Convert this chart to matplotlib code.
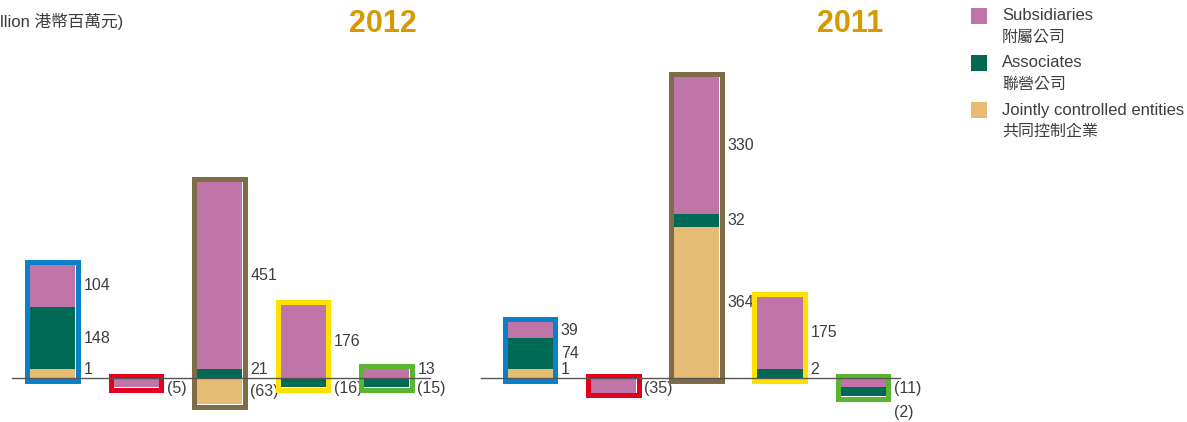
import matplotlib
matplotlib.use('Agg')
import matplotlib.pyplot as plt
from matplotlib.patches import Rectangle

# ---------------- data ----------------
years = ['2012', '2011']
sub_2012 = [104, -5, 451, 176, 13]
assoc_2012 = [148, 0, 21, -16, -15]
jce_2012 = [1, 0, -63, 0, 0]

sub_2011 = [39, -35, 330, 175, -11]
assoc_2011 = [74, 0, 32, 2, -2]
jce_2011 = [1, 0, 364, 0, 0]

legend_en = ['Subsidiaries', 'Associates', 'Jointly controlled entities']
legend_zh = ['附屬公司', '聯營公司', '共同控制企業']
unit_label = 'llion 港幣百萬元)'

# ---------------- style ----------------
W, H = 1187, 422
C_SUB = '#C075A8'
C_ASSOC = '#006A55'
C_JCE = '#E6BB73'
BOX_COLORS = ['#0A80C9', '#E2001A', '#7E6B47', '#FFE100', '#5BB530']
TITLE_COLOR = '#D59A00'
TEXT_COLOR = '#3d3d3d'
NUM_FONT = ['Liberation Sans', 'DejaVu Sans']

PX_PER_UNIT = 0.415          # vertical pixels per HK$ million
BASE_PX = 378                # baseline position from top
BW = 0.55                    # bar width (category units)
MIN_H = 22                   # minimum visible segment height (units)
BOX_LW_PX = 5.0

fig = plt.figure(figsize=(W / 100, H / 100), dpi=100)


def make_axes(left_px, width_px, first_center_px, spacing_px):
    ax = fig.add_axes([left_px / W, 0, width_px / W, 1])
    ax.set_xlim(-(first_center_px - left_px) / spacing_px,
                (left_px + width_px - first_center_px) / spacing_px)
    ax.set_ylim(-(H - BASE_PX) / PX_PER_UNIT, BASE_PX / PX_PER_UNIT)
    ax.axis('off')
    return ax


def draw_panel(ax, sub, assoc, jce, spacing_px, base_x0, base_x1):
    xpad = (BOX_LW_PX / 2) / spacing_px
    ypad = (BOX_LW_PX / 2) / PX_PER_UNIT
    sep = 16 / PX_PER_UNIT
    for i in range(len(sub)):
        pos = [(jce[i], C_JCE), (assoc[i], C_ASSOC), (sub[i], C_SUB)]
        neg = [(sub[i], C_SUB), (assoc[i], C_ASSOC), (jce[i], C_JCE)]
        top, bot = 0.0, 0.0
        pos_labels, neg_labels = [], []
        for v, c in pos:
            if v > 0:
                h = max(v, MIN_H)
                ax.bar(i, h, bottom=top, width=BW, color=c, linewidth=0, zorder=2)
                pos_labels.append((top + h / 2, str(v)))
                top += h
        for v, c in neg:
            if v < 0:
                h = max(-v, MIN_H)
                ax.bar(i, -h, bottom=bot, width=BW, color=c, linewidth=0, zorder=2)
                neg_labels.append((bot - h / 2, '(%d)' % (-v)))
                bot -= h
        ax.add_patch(Rectangle((i - BW / 2 - xpad, bot - ypad), BW + 2 * xpad,
                               (top - bot) + 2 * ypad, fill=False,
                               edgecolor=BOX_COLORS[i], linewidth=BOX_LW_PX * 0.72,
                               joinstyle='miter', zorder=3))
        lx = i + BW / 2 + (BOX_LW_PX + 3.0) / spacing_px
        prev = None
        for y, t in pos_labels:
            y = max(y, 8 / PX_PER_UNIT)
            if prev is not None:
                y = max(y, prev + sep)
            prev = y
            ax.text(lx, y, t, ha='left', va='center', fontsize=11.5,
                    color=TEXT_COLOR, family=NUM_FONT)
        prev = None
        for y, t in neg_labels:
            y = min(y, -10 / PX_PER_UNIT)
            if prev is not None:
                y = min(y, prev - sep * 1.5)
            prev = y
            ax.text(lx, y, t, ha='left', va='center', fontsize=11.5,
                    color=TEXT_COLOR, family=NUM_FONT)
    ax.plot([base_x0, base_x1], [0, 0], color='#555555', linewidth=1.0, zorder=4)


ax12 = make_axes(0, 470, 52.5, 83.5)
draw_panel(ax12, sub_2012, assoc_2012, jce_2012, 83.5, -0.485, 4.52)
ax11 = make_axes(470, 470, 530, 83.25)
draw_panel(ax11, sub_2011, assoc_2011, jce_2011, 83.25, -0.59, 4.44)

# titles
for yr, xc in zip(years, [383, 850]):
    fig.text(xc / W, 1 - 24 / H, yr, ha='center', va='center', fontsize=22,
             fontweight='bold', color=TITLE_COLOR,
             family=['Liberation Sans', 'DejaVu Sans'])

# unit label (clipped at the left edge in the original)
fig.text(0 / W, 1 - 22 / H, unit_label, ha='left', va='center', fontsize=12,
         color=TEXT_COLOR, family=['Liberation Sans', 'Noto Sans CJK TC'])

# legend
for k, (en, zh, c) in enumerate(zip(legend_en, legend_zh, [C_SUB, C_ASSOC, C_JCE])):
    y_sq = 8 + k * 47
    fig.patches.append(Rectangle((971 / W, 1 - (y_sq + 16) / H), 16 / W, 16 / H,
                                 transform=fig.transFigure, facecolor=c,
                                 edgecolor='none'))
    fig.text(1002 / W, 1 - (y_sq + 8) / H, en, ha='left', va='center',
             fontsize=12, color=TEXT_COLOR,
             family=['Liberation Sans', 'Noto Sans CJK TC'])
    fig.text(1002 / W, 1 - (y_sq + 29) / H, zh, ha='left', va='center',
             fontsize=11.5, color=TEXT_COLOR,
             family=['Noto Sans CJK TC', 'DejaVu Sans'])

fig.savefig('out.png', dpi=100)
